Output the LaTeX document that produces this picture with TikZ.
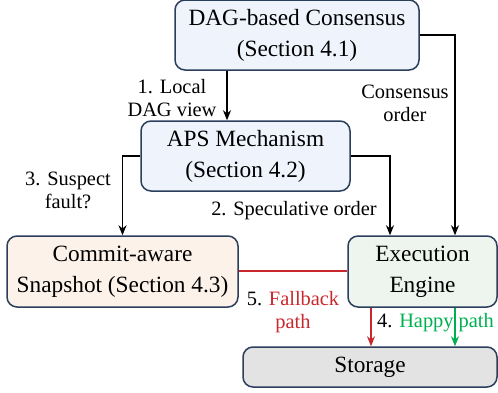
\documentclass[tikz,border=0pt]{standalone}
\usepackage{fontspec}
\setmainfont{Liberation Serif}
\usetikzlibrary{arrows.meta}

\definecolor{boxline}{HTML}{2B3F5C}
\definecolor{bluefill}{HTML}{EEF3FC}
\definecolor{peachfill}{HTML}{FDF2EA}
\definecolor{greenfill}{HTML}{EEF5EF}
\definecolor{greyfill}{HTML}{E3E3E3}
\definecolor{failred}{HTML}{C8282D}
\definecolor{okgreen}{HTML}{00B050}

\begin{document}
\begin{tikzpicture}[x=0.5pt, y=-0.5pt,
    box/.style={draw=boxline, line width=0.75pt, rounded corners=5pt, align=center,
      font=\fontsize{11.65}{15.5}\selectfont, inner sep=0pt},
    lbl/.style={align=center, font=\fontsize{10.2}{11.5}\selectfont, inner sep=0pt},
    arr/.style={line width=0.55pt, -{Stealth[length=5pt, width=4pt]}}
    ]
    \useasboundingbox (0,0) rectangle (498,392);
    % components
    \node[box, fill=bluefill, minimum width=122pt, minimum height=35pt] (dag) at (297,35)
      {DAG-based Consensus\\(Section 4.1)};
    \node[box, fill=bluefill, minimum width=104.5pt, minimum height=35pt] (aps) at (245.5,156)
      {APS Mechanism\\(Section 4.2)};
    \node[box, fill=peachfill, minimum width=115.5pt, minimum height=35.5pt] (snap) at (122.5,271.5)
      {Commit-aware\\Snapshot (Section 4.3)};
    \node[box, fill=greenfill, minimum width=74.5pt, minimum height=35.5pt] (exec) at (422.5,271.5)
      {Execution\\Engine};
    \node[box, fill=greyfill, minimum width=127pt, minimum height=20pt] (store) at (370,367)
      {Storage};

    % flows
    \draw[arr] ([xshift=-9.25pt]aps.north |- dag.south) -- ([xshift=-9.25pt]aps.north);
    \draw[arr] (dag.east) -| ([xshift=16.25pt]exec.north);
    \draw[arr] (aps.west) -| (snap.north);
    \draw[arr] (aps.east) -| ([xshift=-16.25pt]exec.north);
    \draw[draw=failred, line width=0.9pt] ([yshift=0.25pt]snap.east) -- ([yshift=0.25pt]exec.west);
    \draw[arr, failred] ([xshift=-25.75pt]exec.south) -- ([xshift=-25.75pt]exec.south |- store.north);
    \draw[arr, okgreen] ([xshift=16.25pt]exec.south) -- ([xshift=16.25pt]exec.south |- store.north);

    % labels
    \node[lbl] (l1) at (172,98) {1. Local\\DAG view};
    \node[lbl] (lc) at (405,103) {Consensus\\order};
    \node[lbl] (l3) at (68,190) {3. Suspect\\fault?};
    \node[lbl] (l2) at (294,211) {2. Speculative order};
    \node[lbl] (l5) at (293,312) {5. \textcolor{failred}{Fallback}\\\textcolor{failred}{path}};
    \node[lbl] (l4) at (435.5,323) {4. \textcolor{okgreen}{Happy path}};
\end{tikzpicture}
\end{document}
